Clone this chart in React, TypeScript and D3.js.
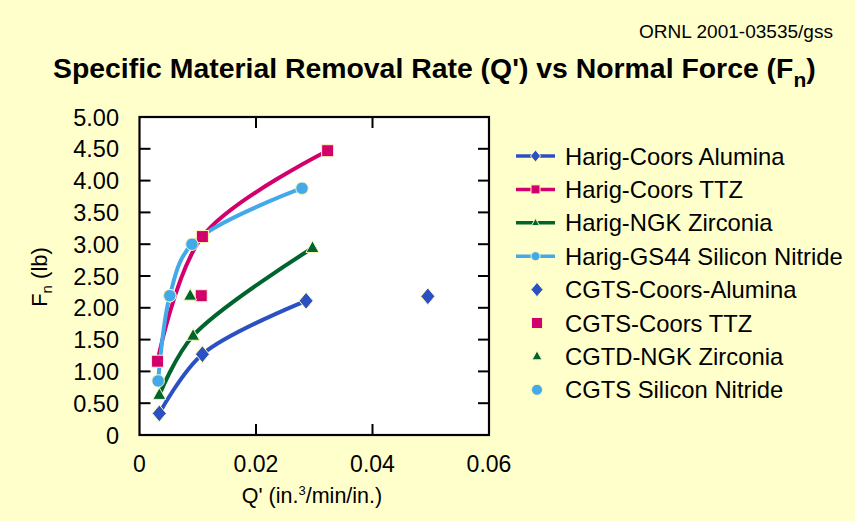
import React from "react";
import * as d3 from "d3";

const xTicks = [0, 0.02, 0.04, 0.06];
const xTickLabels = ["0", "0.02", "0.04", "0.06"];
const yTicks = [0, 0.5, 1, 1.5, 2, 2.5, 3, 3.5, 4, 4.5, 5];
const yTickLabels = ["0", "0.50", "1.00", "1.50", "2.00", "2.50", "3.00", "3.50", "4.00", "4.50", "5.00"];

const harigAluminaQ = [0.0034, 0.0108, 0.0286];
const harigAluminaF = [0.34, 1.27, 2.11];
const harigTTZQ = [0.0031, 0.0108, 0.0323];
const harigTTZF = [1.16, 3.12, 4.47];
const harigNGKQ = [0.0034, 0.0092, 0.0297];
const harigNGKF = [0.63, 1.56, 2.94];
const harigGS44Q = [0.0032, 0.0052, 0.009, 0.0279];
const harigGS44F = [0.85, 2.19, 3.0, 3.88];

const cgtsAluminaQ = [0.0495];
const cgtsAluminaF = [2.18];
const cgtsTTZQ = [0.0106];
const cgtsTTZF = [2.19];
const cgtdNGKQ = [0.0087];
const cgtdNGKF = [2.19];
const cgtsSNQ = [0.0052];
const cgtsSNF = [2.19];

const legendLabels = [
  "Harig-Coors Alumina",
  "Harig-Coors TTZ",
  "Harig-NGK Zirconia",
  "Harig-GS44 Silicon Nitride",
  "CGTS-Coors-Alumina",
  "CGTS-Coors TTZ",
  "CGTD-NGK Zirconia",
  "CGTS Silicon Nitride",
];

const BLUE = "#2b50c4";
const PINK = "#d2006c";
const GREEN = "#00642f";
const LBLUE = "#42a9ea";
const BG = "#ffffcc";
const FONT = "'Liberation Sans', Arial, Helvetica, sans-serif";

type Shape = "diamond" | "square" | "triangle" | "circle";

function Marker({ shape, x, y, s, color }: { shape: Shape; x: number; y: number; s: number; color: string }) {
  const stroke = "#fbf7b8";
  if (shape === "diamond") {
    const w = s * 0.5, h = s * 0.6;
    return <path d={`M${x},${y - h}L${x + w},${y}L${x},${y + h}L${x - w},${y}Z`} fill={color} stroke={stroke} strokeWidth={1} />;
  }
  if (shape === "square") {
    return <rect x={x - s / 2} y={y - s / 2} width={s} height={s} fill={color} stroke={stroke} strokeWidth={1} />;
  }
  if (shape === "triangle") {
    const h = s * 0.9;
    return <path d={`M${x},${y - h * 0.62}L${x + s / 2},${y + h * 0.38}L${x - s / 2},${y + h * 0.38}Z`} fill={color} stroke={stroke} strokeWidth={1} />;
  }
  return <circle cx={x} cy={y} r={s / 2} fill={color} stroke={stroke} strokeWidth={1} />;
}

export default function App() {
  const x = d3.scaleLinear().domain([0, 0.06]).range([139.5, 489]);
  const y = d3.scaleLinear().domain([0, 5]).range([435, 117]);
  const line = d3
    .line<[number, number]>()
    .x((d) => x(d[0]))
    .y((d) => y(d[1]))
    .curve(d3.curveCatmullRom.alpha(0.5));

  const harig = [
    { q: harigAluminaQ, f: harigAluminaF, color: BLUE, shape: "diamond" as Shape, s: 14 },
    { q: harigTTZQ, f: harigTTZF, color: PINK, shape: "square" as Shape, s: 12 },
    { q: harigNGKQ, f: harigNGKF, color: GREEN, shape: "triangle" as Shape, s: 13 },
    { q: harigGS44Q, f: harigGS44F, color: LBLUE, shape: "circle" as Shape, s: 12.5 },
  ];
  const cgts = [
    { q: cgtsAluminaQ, f: cgtsAluminaF, color: BLUE, shape: "diamond" as Shape, s: 14 },
    { q: cgtsTTZQ, f: cgtsTTZF, color: PINK, shape: "square" as Shape, s: 12 },
    { q: cgtdNGKQ, f: cgtdNGKF, color: GREEN, shape: "triangle" as Shape, s: 13 },
    { q: cgtsSNQ, f: cgtsSNF, color: LBLUE, shape: "circle" as Shape, s: 12.5 },
  ];

  const legendY0 = 156;
  const legendDy = 33.4;
  const legendShapes: Shape[] = ["diamond", "square", "triangle", "circle"];
  const legendColors = [BLUE, PINK, GREEN, LBLUE];
  const legendSizes = [10, 9, 8, 9];

  const x0 = x(0), x1 = x(0.06), yTop = y(5), yBot = y(0);

  return (
    <svg width={855} height={521} style={{ position: "absolute", left: 0, top: 0, display: "block" }} fontFamily={FONT}>
      <rect x={0} y={0} width={855} height={521} fill={BG} />
      <text x={639} y={38} fontSize={18} textLength={194} lengthAdjust="spacingAndGlyphs" fill="#000">ORNL 2001-03535/gss</text>
      <text x={53} y={78} fontSize={28.4} fontWeight="bold" fill="#000">
        Specific Material Removal Rate (Q') vs Normal Force (F
        <tspan fontSize={21} dy={9}>n</tspan>
        <tspan dy={-9}>)</tspan>
      </text>

      <rect x={x0} y={yTop} width={x1 - x0} height={yBot - yTop} fill="#fff" />

      {yTicks.filter((t) => t > 0 && t < 5).map((t) => (
        <g key={"yt" + t}>
          <line x1={x0} x2={x0 + 11} y1={y(t)} y2={y(t)} stroke="#000" strokeWidth={2} />
          <line x1={x1} x2={x1 - 11} y1={y(t)} y2={y(t)} stroke="#000" strokeWidth={2} />
        </g>
      ))}
      {xTicks.filter((t) => t > 0 && t < 0.06).map((t) => (
        <g key={"xt" + t}>
          <line x1={x(t)} x2={x(t)} y1={yBot} y2={yBot - 11} stroke="#000" strokeWidth={2} />
          <line x1={x(t)} x2={x(t)} y1={yTop} y2={yTop + 11} stroke="#000" strokeWidth={2} />
        </g>
      ))}
      <rect x={x0} y={yTop} width={x1 - x0} height={yBot - yTop} fill="none" stroke="#000" strokeWidth={2.2} />

      {yTicks.map((t, i) => (
        <text key={"yl" + t} x={119} y={y(t) + 8.5} fontSize={23.5} textAnchor="end" fill="#000">{yTickLabels[i]}</text>
      ))}
      {xTicks.map((t, i) => (
        <text key={"xl" + t} x={x(t)} y={472} fontSize={23} textAnchor="middle" fill="#000">{xTickLabels[i]}</text>
      ))}

      <text x={312} y={503} fontSize={21.5} textAnchor="middle" fill="#000">
        Q' (in.<tspan fontSize={13} dy={-8}>3</tspan><tspan dy={8}>/min/in.)</tspan>
      </text>
      <text transform="translate(47,277) rotate(-90)" fontSize={22} textAnchor="middle" fill="#000">
        F<tspan fontSize={15} dy={5}>n</tspan><tspan dy={-5}> (lb)</tspan>
      </text>

      {harig.map((s, i) => (
        <path key={"hl" + i} d={line(s.q.map((q, j) => [q, s.f[j]] as [number, number])) || ""} fill="none" stroke={s.color} strokeWidth={4} strokeLinecap="round" />
      ))}
      {harig.map((s, i) =>
        s.q.map((q, j) => <Marker key={"hm" + i + "-" + j} shape={s.shape} x={x(q)} y={y(s.f[j])} s={s.s} color={s.color} />)
      )}
      {cgts.map((s, i) =>
        s.q.map((q, j) => <Marker key={"cm" + i + "-" + j} shape={s.shape} x={x(q)} y={y(s.f[j])} s={s.s} color={s.color} />)
      )}

      {legendLabels.map((lab, i) => {
        const ly = legendY0 + i * legendDy;
        const k = i % 4;
        const isLine = i < 4;
        return (
          <g key={"lg" + i}>
            {isLine && <line x1={516} x2={555} y1={ly} y2={ly} stroke={legendColors[k]} strokeWidth={3.5} />}
            <Marker shape={legendShapes[k]} x={isLine ? 535.5 : 537} y={ly} s={isLine ? legendSizes[k] : legendSizes[k] + 2} color={legendColors[k]} />
            <text x={565} y={ly + 8.5} fontSize={23.8} fill="#000">{lab}</text>
          </g>
        );
      })}
    </svg>
  );
}
